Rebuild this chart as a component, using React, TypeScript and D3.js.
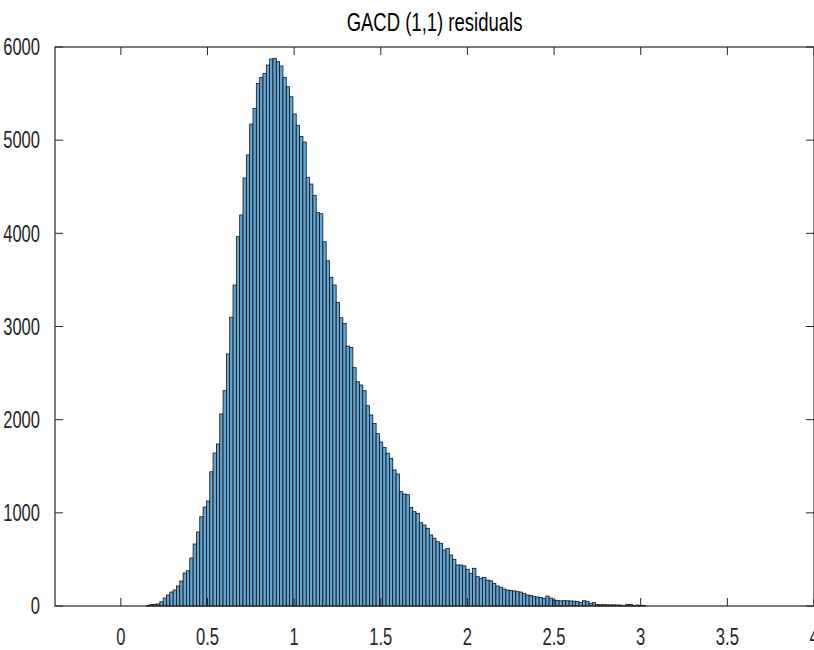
import React, { useEffect, useRef } from 'react';
import * as d3 from 'd3';

// histogram of the residuals
const binStart = 0.1482;
const binWidth = 0.0192;
const counts = [
  8, 15, 18, 22,
  45, 85, 118, 150, 172, 215, 268, 354, 379, 515,
  665, 794, 958, 1062, 1127, 1441, 1642, 1739, 2061, 2311,
  2705, 3100, 3445, 3964, 4197, 4594, 4841, 5173, 5342, 5610,
  5674, 5717, 5806, 5871, 5878, 5842, 5796, 5674, 5574, 5466,
  5281, 5160, 5040, 4980, 4601, 4529, 4408, 4222, 4210, 3910,
  3706, 3528, 3445, 3259, 3094, 3034, 2790, 2775, 2558, 2407,
  2372, 2311, 2150, 2050, 1960, 1850, 1760, 1700, 1640, 1585,
  1460, 1417, 1227, 1202, 1195, 1059, 1012, 995, 894, 869,
  834, 762, 727, 690, 673, 601, 619, 547, 501, 440,
  440, 430, 394, 351, 405, 315, 297, 305, 279, 270,
  243, 215, 200, 182, 172, 165, 162, 154, 150, 136,
  118, 112, 100, 97, 92, 82, 107, 85, 64, 58,
  55, 57, 56, 54, 52, 50, 36, 57, 50, 29,
  36, 15, 14, 14, 13, 12, 12, 11, 10, 4,
  18, 16, 6, 10, 8, 5,
];
const xTicks = [0, 0.5, 1, 1.5, 2, 2.5, 3, 3.5, 4];
const xTickLabels = ['0', '0.5', '1', '1.5', '2', '2.5', '3', '3.5', '4'];
const yTicks = [0, 1000, 2000, 3000, 4000, 5000, 6000];
const title = 'GACD (1,1) residuals';

const App: React.FC = () => {
  const svgRef = useRef<SVGSVGElement>(null);

  useEffect(() => {
    const width = 814;
    const height = 650;
    const left = 55, right = 814, top = 47, bottom = 606;
    const axisColor = '#262626';
    const font = '"Liberation Sans", Arial, sans-serif';
    const squeeze = 0.72;

    const svg = d3.select(svgRef.current);
    svg.selectAll('*').remove();
    svg.attr('width', width).attr('height', height);

    svg.append('rect').attr('width', width).attr('height', height).attr('fill', '#fff');

    const x = d3.scaleLinear().domain([-0.38, 4.0]).range([left, right]);
    const y = d3.scaleLinear().domain([0, 6000]).range([bottom, top]);

    const bins = counts.map((c, i) => ({
      x0: binStart + i * binWidth,
      x1: binStart + (i + 1) * binWidth,
      c,
    }));

    svg.append('g')
      .selectAll('rect')
      .data(bins)
      .enter()
      .append('rect')
      .attr('x', d => x(d.x0))
      .attr('y', d => y(d.c))
      .attr('width', d => x(d.x1) - x(d.x0))
      .attr('height', d => y(0) - y(d.c))
      .attr('fill', 'rgb(98,166,214)')
      .attr('stroke', '#111')
      .attr('stroke-width', 0.8);

    // box
    svg.append('rect')
      .attr('x', left)
      .attr('y', top)
      .attr('width', right - left)
      .attr('height', bottom - top)
      .attr('fill', 'none')
      .attr('stroke', axisColor)
      .attr('stroke-width', 1.2);

    const tickLen = 8;
    const ticks = svg.append('g').attr('stroke', axisColor).attr('stroke-width', 1);
    xTicks.forEach(t => {
      const px = x(t);
      ticks.append('line').attr('x1', px).attr('x2', px).attr('y1', bottom).attr('y2', bottom - tickLen);
      ticks.append('line').attr('x1', px).attr('x2', px).attr('y1', top).attr('y2', top + tickLen);
    });
    yTicks.forEach(t => {
      const py = y(t);
      ticks.append('line').attr('x1', left).attr('x2', left + tickLen).attr('y1', py).attr('y2', py);
      ticks.append('line').attr('x1', right).attr('x2', right - tickLen).attr('y1', py).attr('y2', py);
    });

    xTicks.forEach((t, i) => {
      svg.append('text')
        .attr('transform', `translate(${x(t)},${645}) scale(${squeeze},1)`)
        .attr('text-anchor', 'middle')
        .attr('font-family', font)
        .attr('font-size', 23)
        .attr('fill', axisColor)
        .text(xTickLabels[i]);
    });

    yTicks.forEach(t => {
      svg.append('text')
        .attr('transform', `translate(40,${y(t) + 8.3}) scale(${squeeze},1)`)
        .attr('text-anchor', 'end')
        .attr('font-family', font)
        .attr('font-size', 23)
        .attr('fill', axisColor)
        .text(String(t));
    });

    svg.append('text')
      .attr('transform', `translate(${(left + right) / 2},31) scale(0.74,1)`)
      .attr('text-anchor', 'middle')
      .attr('font-family', font)
      .attr('font-size', 25)
      .attr('fill', '#000')
      .text(title);
  }, []);

  return (
    <svg
      ref={svgRef}
      style={{ position: 'absolute', left: 0, top: 0, display: 'block' }}
    ></svg>
  );
};

export default App;
